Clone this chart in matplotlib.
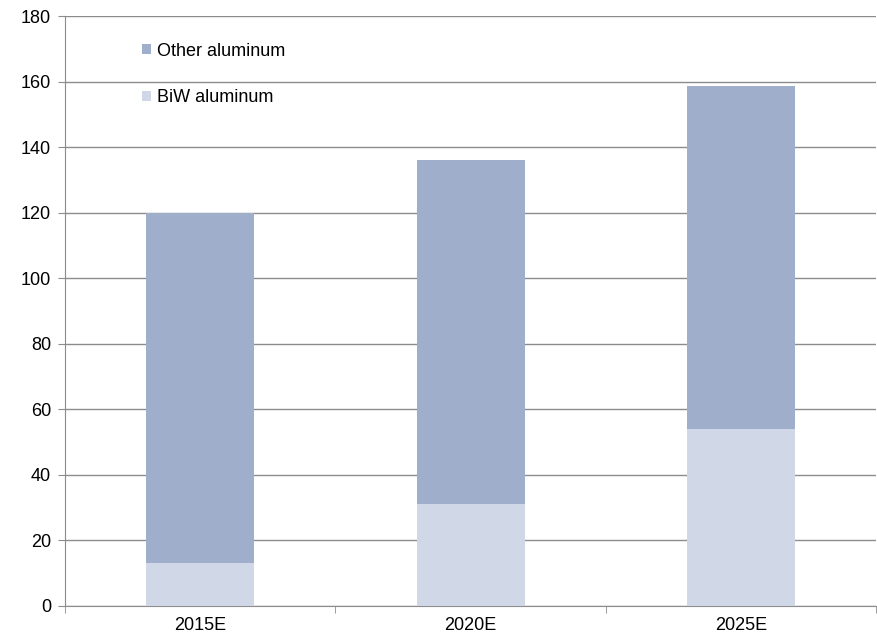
import numpy as np
import matplotlib.pyplot as plt

plt.rcParams['font.family'] = ['Liberation Sans', 'DejaVu Sans']

categories = ['2015E', '2020E', '2025E']
biw_aluminum = [13, 31, 54]
other_aluminum = [107, 105, 104.5]

fig = plt.figure(figsize=(8.77, 6.35), dpi=100)
ax = fig.add_axes([0.0741, 0.0457, 0.925, 0.9291])

x = np.arange(len(categories))
ax.bar(x, biw_aluminum, width=0.4, color='#D0D7E6', label='BiW aluminum', zorder=3)
ax.bar(x, other_aluminum, width=0.4, bottom=biw_aluminum, color='#9EAECB',
       label='Other aluminum', zorder=3)

ax.set_xlim(-0.5, len(categories) - 0.5)
ax.set_ylim(0, 180)
ax.set_yticks(range(0, 181, 20))
ax.set_xticks(x)
ax.set_xticklabels(categories)
ax.set_xticks(np.arange(-0.5, len(categories), 1), minor=True)

ax.grid(axis='y', color='#8C8C8C', linewidth=1, zorder=0)
for side in ['top', 'right']:
    ax.spines[side].set_visible(False)
for side in ['left', 'bottom']:
    ax.spines[side].set_color('#8C8C8C')
ax.tick_params(axis='x', which='major', length=0, pad=8, labelsize=13)
ax.tick_params(axis='x', which='minor', length=5, color='#8C8C8C')
ax.tick_params(axis='y', length=5, color='#8C8C8C', labelsize=13, pad=5)

handles, labels = ax.get_legend_handles_labels()
ax.legend(handles[::-1], labels[::-1], loc='upper left', bbox_to_anchor=(0.162, 0.933),
          bbox_transform=fig.transFigure, frameon=False, fontsize=13,
          borderpad=0, borderaxespad=0,
          handlelength=0.5, handleheight=0.5, handletextpad=0.3, labelspacing=1.65)

fig.savefig('out.png', dpi=100)
